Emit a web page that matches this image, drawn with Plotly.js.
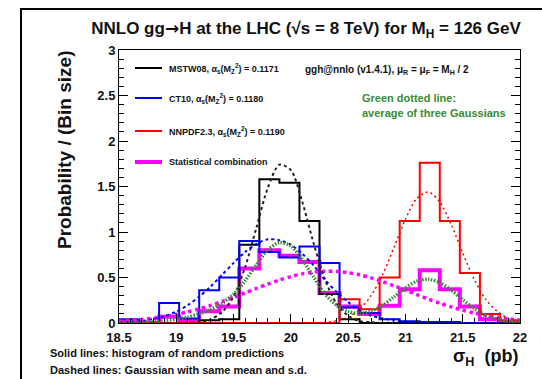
<!DOCTYPE html>
<html>
<head>
<meta charset="utf-8">
<script src="https://cdn.plot.ly/plotly-3.0.1.min.js"></script>
<style>html,body{margin:0;padding:0;background:#fff;}#chart{width:542px;height:379px;}</style>
</head>
<body>
<div id="chart"></div>
<script>
// ---- data ----
const binEdges = [18.5, 18.675, 18.85, 19.025, 19.2, 19.375, 19.55, 19.725, 19.9, 20.075, 20.25,
                  20.425, 20.6, 20.775, 20.95, 21.125, 21.3, 21.475, 21.65, 21.825, 22.0];
const histMSTW  = [0, 0, 0, 0, 0.03, 0.04, 0.86, 1.58, 1.54, 1.12, 0.32, 0.04, 0, 0, 0, 0, 0, 0, 0, 0];
const histCT10  = [0.04, 0.0, 0.22, 0.05, 0.36, 0.50, 0.90, 0.78, 0.72, 0.84, 0.66, 0.17, 0.11, 0.04, 0.02, 0.01, 0.01, 0, 0, 0];
const histNNPDF = [0, 0, 0, 0, 0, 0, 0, 0, 0, 0, 0, 0.26, 0.15, 0.50, 1.12, 1.76, 1.12, 0.55, 0.10, 0.03];
const histComb  = [0.01, 0.0, 0.07, 0.03, 0.13, 0.18, 0.60, 0.80, 0.74, 0.67, 0.33, 0.18, 0.10, 0.19, 0.37, 0.58, 0.37, 0.18, 0.04, 0.01];

const curveX = [18.5, 18.6, 18.7, 18.8, 18.9, 19.0, 19.1, 19.2, 19.3, 19.4, 19.5, 19.6, 19.7, 19.8, 19.9, 20.0, 20.1, 20.2,
                20.3, 20.4, 20.5, 20.6, 20.7, 20.8, 20.9, 21.0, 21.1, 21.2, 21.3, 21.4, 21.5, 21.6, 21.7, 21.8, 21.9, 22.0];
const gaussMSTW  = [0, 0, 0, 0, 0, 0, 0.002, 0.01, 0.04, 0.12, 0.29, 0.61, 1.05, 1.49, 1.74, 1.68, 1.33, 0.87,
                    0.47, 0.21, 0.08, 0.02, 0.01, 0, 0, 0, 0, 0, 0, 0, 0, 0, 0, 0, 0, 0];
const gaussCT10  = [0.006, 0.012, 0.023, 0.043, 0.075, 0.125, 0.195, 0.29, 0.40, 0.53, 0.66, 0.78, 0.87, 0.92, 0.91, 0.86, 0.76, 0.63,
                    0.47, 0.34, 0.23, 0.14, 0.08, 0.05, 0.03, 0.015, 0.008, 0.004, 0, 0, 0, 0, 0, 0, 0, 0];
const gaussNNPDF = [0, 0, 0, 0, 0, 0, 0, 0, 0, 0, 0, 0, 0, 0, 0, 0, 0, 0,
                    0.008, 0.025, 0.065, 0.15, 0.30, 0.53, 0.83, 1.14, 1.37, 1.44, 1.33, 1.08, 0.77, 0.48, 0.26, 0.13, 0.05, 0.02];
const gaussComb  = [0.019, 0.027, 0.038, 0.052, 0.071, 0.094, 0.122, 0.155, 0.193, 0.236, 0.282, 0.331, 0.380, 0.428, 0.472, 0.510, 0.540, 0.560,
                    0.569, 0.567, 0.553, 0.529, 0.496, 0.455, 0.409, 0.361, 0.311, 0.263, 0.218, 0.177, 0.141, 0.110, 0.084, 0.063, 0.046, 0.033];
const gaussAvg   = [0.002, 0.004, 0.008, 0.014, 0.025, 0.042, 0.066, 0.10, 0.147, 0.217, 0.317, 0.463, 0.64, 0.803, 0.883, 0.847, 0.697, 0.503,
                    0.316, 0.192, 0.125, 0.103, 0.13, 0.193, 0.287, 0.385, 0.459, 0.481, 0.443, 0.36, 0.257, 0.16, 0.087, 0.043, 0.017, 0.007];

const legendLabels = [
  "MSTW08, α<sub>s</sub>(M<sub>Z</sub><sup>2</sup>) = 0.1171",
  "CT10, α<sub>s</sub>(M<sub>Z</sub><sup>2</sup>) = 0.1180",
  "NNPDF2.3, α<sub>s</sub>(M<sub>Z</sub><sup>2</sup>) = 0.1190",
  "Statistical combination"
];

// ---- helpers ----
function stepTrace(vals, color, width) {
  const xs = binEdges.slice();
  const ys = vals.concat([vals[vals.length - 1]]);
  return {x: xs, y: ys, type: 'scatter', mode: 'lines', line: {shape: 'hv', color: color, width: width}, hoverinfo: 'skip'};
}
function curveTrace(vals, color, width, dash) {
  return {x: curveX, y: vals, type: 'scatter', mode: 'lines', line: {shape: 'spline', smoothing: 0.8, color: color, width: width, dash: dash}, hoverinfo: 'skip'};
}
const L = 119, R = 520, T = 50, B = 323;
function px(x) { return (x - L) / (R - L); }
function py(y) { return (B - y) / (B - T); }

const GREEN = '#3a8a33';
const traces = [
  stepTrace(histComb, '#ff00ff', 4),
  stepTrace(histMSTW, '#000000', 2),
  stepTrace(histCT10, '#0000ff', 2),
  stepTrace(histNNPDF, '#ff0000', 2),
  curveTrace(gaussComb, '#ff00ff', 3.5, '3.5px,3.5px'),
  curveTrace(gaussMSTW, '#222222', 2, '3px,3px'),
  curveTrace(gaussCT10, '#0000ff', 2, '3px,3px'),
  curveTrace(gaussNNPDF, '#ff0000', 1.5, '2px,3px'),
  curveTrace(gaussAvg, GREEN, 3.5, '1.5px,1.5px')
];

const F = 'Liberation Sans, Arial, Helvetica, sans-serif';
const legendColors = ['#000000', '#0000ff', '#ff0000', '#ff00ff'];
const legendWidths = [2, 2, 2, 4];
const legendY = [68, 98, 131, 162];

const shapes = [
  {type: 'rect', xref: 'paper', yref: 'paper', x0: px(21), x1: px(600), y0: py(9), y1: py(450),
   line: {color: '#000', width: 2}, fillcolor: 'rgba(0,0,0,0)'}
];
const annotations = [];
legendLabels.forEach((lab, i) => {
  shapes.push({type: 'line', xref: 'paper', yref: 'paper', x0: px(135), x1: px(162), y0: py(legendY[i]), y1: py(legendY[i]),
               line: {color: legendColors[i], width: legendWidths[i]}});
  annotations.push({xref: 'paper', yref: 'paper', x: px(167), y: py(legendY[i]), xanchor: 'left', yanchor: 'middle',
                    text: lab, showarrow: false, font: {family: F, size: 9, weight: 'bold', color: '#111'}});
});
annotations.push(
  {xref: 'paper', yref: 'paper', x: px(303), y: py(70), xanchor: 'left', yanchor: 'middle', showarrow: false,
   text: 'ggh@nnlo (v1.4.1), μ<sub>R</sub> = μ<sub>F</sub> = M<sub>H</sub> / 2', font: {family: F, size: 10, weight: 'bold', color: '#111'}},
  {xref: 'paper', yref: 'paper', x: px(360), y: py(98), xanchor: 'left', yanchor: 'middle', showarrow: false,
   text: 'Green dotted line:', font: {family: F, size: 11, weight: 'bold', color: GREEN}},
  {xref: 'paper', yref: 'paper', x: px(360), y: py(113), xanchor: 'left', yanchor: 'middle', showarrow: false,
   text: 'average of three Gaussians', font: {family: F, size: 11, weight: 'bold', color: GREEN}},
  {xref: 'paper', yref: 'paper', x: px(64), y: py(150), xanchor: 'center', yanchor: 'middle', showarrow: false, textangle: -90,
   text: 'Probability / (Bin size)', font: {family: F, size: 19, weight: 'bold', color: '#111'}},
  {xref: 'paper', yref: 'paper', x: px(520), y: py(357), xanchor: 'right', yanchor: 'middle', showarrow: false,
   text: 'σ<sub>H</sub>  (pb)', font: {family: F, size: 18, weight: 'bold', color: '#111'}},
  {xref: 'paper', yref: 'paper', x: px(48), y: py(353), xanchor: 'left', yanchor: 'middle', showarrow: false,
   text: 'Solid lines: histogram of random predictions', font: {family: F, size: 11, weight: 'bold', color: '#111'}},
  {xref: 'paper', yref: 'paper', x: px(48), y: py(370), xanchor: 'left', yanchor: 'middle', showarrow: false,
   text: 'Dashed lines: Gaussian with same mean and s.d.', font: {family: F, size: 11, weight: 'bold', color: '#111'}}
);

const tickFont = {family: F, size: 13, weight: 'bold', color: '#111'};
const layout = {
  width: 542, height: 379,
  margin: {l: L, r: 542 - R, t: T, b: 379 - B, pad: 0},
  paper_bgcolor: '#fff', plot_bgcolor: '#fff',
  showlegend: false,
  title: {text: 'NNLO gg<span style="font-family:DejaVu Sans">→</span>H at the LHC (√s = 8 TeV) for M<sub>H</sub> = 126 GeV',
          x: 306 / 542, xanchor: 'center', xref: 'container', y: 1 - 28 / 379, yanchor: 'middle', yref: 'container',
          font: {family: F, size: 17, weight: 'bold', color: '#111'}},
  xaxis: {range: [18.5, 22], tick0: 18.5, dtick: 0.5, ticks: 'inside', ticklen: 9, tickwidth: 1, tickcolor: '#000',
          showline: true, linecolor: '#000', linewidth: 1, mirror: true, showgrid: false, zeroline: false,
          tickfont: tickFont, ticklabelstandoff: 2,
          minor: {dtick: 0.1, tick0: 18.5, ticks: 'inside', ticklen: 5, tickwidth: 1, tickcolor: '#000', showgrid: false}},
  yaxis: {range: [0, 3], tick0: 0, dtick: 0.5, ticks: 'inside', ticklen: 9, tickwidth: 1, tickcolor: '#000',
          showline: true, linecolor: '#000', linewidth: 1, mirror: 'allticks', showgrid: false, zeroline: false,
          tickfont: tickFont,
          minor: {dtick: 0.1, tick0: 0, ticks: 'inside', ticklen: 5, tickwidth: 1, tickcolor: '#000', showgrid: false}},
  shapes: shapes,
  annotations: annotations
};

Plotly.newPlot('chart', traces, layout, {displayModeBar: false, staticPlot: true});
</script>
</body>
</html>
